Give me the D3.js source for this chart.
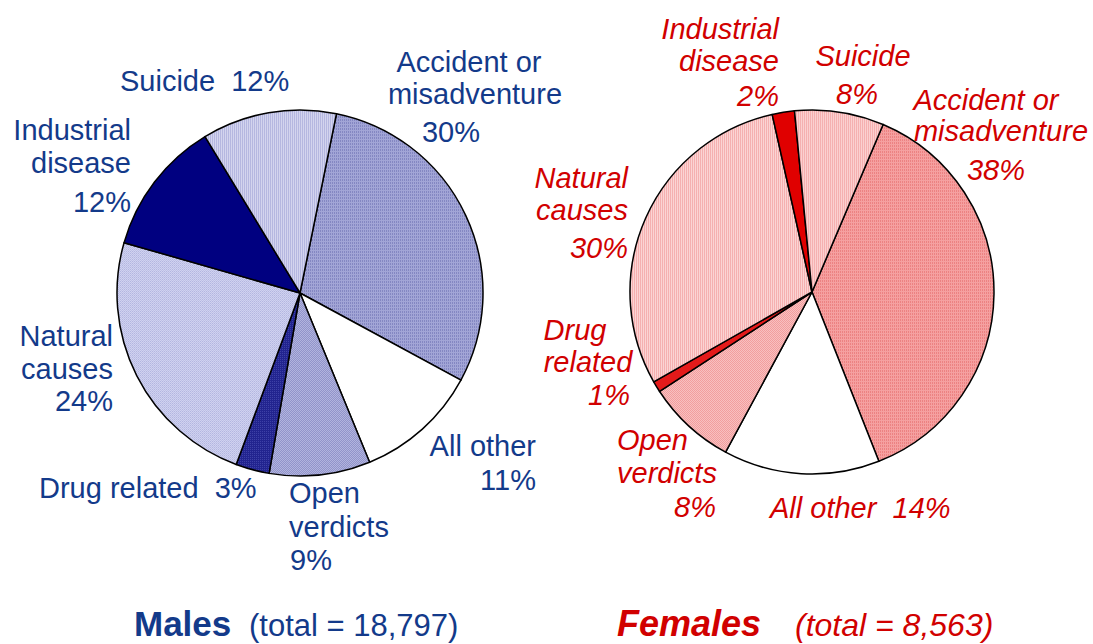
<!DOCTYPE html>
<html>
<head>
<meta charset="utf-8">
<script src="https://cdn.jsdelivr.net/npm/d3@7"></script>
<style>
  html, body { margin: 0; padding: 0; background: #fff; }
  svg { display: block; }
  text { font-family: "Liberation Sans", Arial, sans-serif; }
</style>
</head>
<body>
<div id="chart"></div>
<script>
// ---- data ----
const maleCategories   = ["Accident or misadventure", "All other", "Open verdicts", "Drug related", "Natural causes", "Industrial disease", "Suicide"];
const maleValues       = [30, 11, 9, 3, 24, 12, 12];
const femaleCategories = ["Accident or misadventure", "All other", "Open verdicts", "Drug related", "Natural causes", "Industrial disease", "Suicide"];
const femaleValues     = [38, 14, 8, 1, 30, 2, 8];
const maleTotal   = "18,797";
const femaleTotal = "8,563";

// ---- styles ----
const W = 1093, H = 644;
const maleText = "#133a8a", femaleText = "#d10000";

const svg = d3.select("#chart").append("svg").attr("width", W).attr("height", H);
const defs = svg.append("defs");

// pattern helper: base colour + small cells
function pat(id, w, h, bg, cells) {
  const p = defs.append("pattern").attr("id", id).attr("patternUnits", "userSpaceOnUse")
    .attr("width", w).attr("height", h);
  p.append("rect").attr("width", w).attr("height", h).attr("fill", bg);
  cells.forEach(c => p.append("rect").attr("x", c[0]).attr("y", c[1]).attr("width", c[2]).attr("height", c[3]).attr("fill", c[4]));
  return `url(#${id})`;
}

const maleFill = {
  "Accident or misadventure": pat("mAcc", 2, 3, "#a2a5d6", [[0,0,1,2,"#8487c2"]]),
  "All other": "#ffffff",
  "Open verdicts": pat("mOpen", 2, 2, "#b2b4de", [[0,0,1,1,"#9194ca"],[1,1,1,1,"#9194ca"]]),
  "Drug related": pat("mDrug", 2, 2, "#22248f", [[0,0,1,1,"#3d40a6"]]),
  "Natural causes": pat("mNat", 2, 2, "#d0d2ef", [[0,0,1,1,"#b3b6e1"],[1,1,1,1,"#bec1e8"]]),
  "Industrial disease": "#000080",
  "Suicide": pat("mSui", 2, 1, "#d3d4ee", [[0,0,1,1,"#b5b7e0"]])
};
const femaleFill = {
  "Accident or misadventure": pat("fAcc", 2, 3, "#f5a0a0", [[0,0,1,2,"#ec8282"]]),
  "All other": "#ffffff",
  "Open verdicts": pat("fOpen", 2, 2, "#f8c0c0", [[0,0,1,1,"#f29e9e"],[1,1,1,1,"#f29e9e"]]),
  "Drug related": "#e41a1a",
  "Natural causes": pat("fNat", 2, 2, "#fbd4d4", [[0,0,1,2,"#f5b0b0"]]),
  "Industrial disease": "#e00000",
  "Suicide": pat("fSui", 2, 1, "#fbd0d0", [[0,0,1,1,"#f5b0b0"]])
};

// ---- layout ----
const deg = Math.PI / 180;
const pies = [
  { cats: maleCategories, vals: maleValues, fill: maleFill, cx: 300, cy: 293, r: 183, start: 11.5 },
  { cats: femaleCategories, vals: femaleValues, fill: femaleFill, cx: 812, cy: 292, r: 182, start: 23 }
];

pies.forEach(p => {
  const pie = d3.pie().sort(null).value(d => d.v)
    .startAngle(p.start * deg).endAngle(p.start * deg + 2 * Math.PI);
  const arcs = pie(p.cats.map((c, i) => ({ c, v: p.vals[i] })));
  const arc = d3.arc().innerRadius(0).outerRadius(p.r);
  const g = svg.append("g").attr("transform", `translate(${p.cx},${p.cy})`);
  g.selectAll("path").data(arcs).join("path")
    .attr("d", arc)
    .attr("fill", d => p.fill[d.data.c])
    .attr("stroke", "#000")
    .attr("stroke-width", 1.5)
    .attr("stroke-linejoin", "round");
});

// ---- labels (text lines with placement) ----
const maleLabels = [
  { lines: ["Suicide  12%"], x: 120, y: [91], a: "start" },
  { lines: ["Industrial", "disease", "12%"], x: 131, y: [140, 173, 212], a: "end" },
  { lines: ["Accident or"], x: 469, y: [72], a: "middle" },
  { lines: ["misadventure"], x: 475, y: [104], a: "middle" },
  { lines: ["30%"], x: 451, y: [142], a: "middle" },
  { lines: ["Natural", "causes", "24%"], x: 113, y: [346, 379, 411], a: "end" },
  { lines: ["Drug related  3%"], x: 39, y: [498], a: "start" },
  { lines: ["Open", "verdicts"], x: 289, y: [503, 537], a: "start" },
  { lines: ["9%"], x: 290, y: [570], a: "start" },
  { lines: ["All other", "11%"], x: 536, y: [456, 490], a: "end" }
];
const femaleLabels = [
  { lines: ["Industrial", "disease", "2%"], x: 779, y: [39, 71, 106], a: "end" },
  { lines: ["Suicide"], x: 863, y: [66], a: "middle" },
  { lines: ["8%"], x: 857, y: [104], a: "middle" },
  { lines: ["Accident or"], x: 986, y: [110], a: "middle" },
  { lines: ["misadventure"], x: 1001, y: [141], a: "middle" },
  { lines: ["38%"], x: 996, y: [180], a: "middle" },
  { lines: ["Natural", "causes", "30%"], x: 628, y: [188, 220, 258], a: "end" },
  { lines: ["Drug"], x: 575, y: [340], a: "middle" },
  { lines: ["related"], x: 588, y: [372], a: "middle" },
  { lines: ["1%"], x: 630, y: [405], a: "end" },
  { lines: ["Open", "verdicts"], x: 617, y: [450, 483], a: "start" },
  { lines: ["8%"], x: 716, y: [517], a: "end" },
  { lines: ["All other  14%"], x: 770, y: [518], a: "start" }
];

function drawLabels(list, color, italic) {
  list.forEach(l => {
    l.lines.forEach((t, i) => {
      svg.append("text")
        .attr("x", l.x).attr("y", l.y[i])
        .attr("text-anchor", l.a)
        .attr("font-size", 29)
        .attr("font-style", italic ? "italic" : "normal")
        .attr("fill", color)
        .attr("xml:space", "preserve")
        .style("white-space", "pre")
        .text(t);
    });
  });
}
drawLabels(maleLabels, maleText, false);
drawLabels(femaleLabels, femaleText, true);

// ---- titles ----
const titleY = 636;
svg.append("text").attr("x", 134).attr("y", titleY)
  .attr("font-size", 35).attr("font-weight", "bold").attr("fill", maleText).text("Males");
svg.append("text").attr("x", 249).attr("y", titleY)
  .attr("font-size", 31).attr("fill", maleText).text(`(total = ${maleTotal})`);
svg.append("text").attr("x", 617).attr("y", titleY)
  .attr("font-size", 36).attr("font-weight", "bold").attr("font-style", "italic").attr("fill", femaleText).text("Females");
svg.append("text").attr("x", 795).attr("y", titleY)
  .attr("font-size", 32).attr("font-style", "italic").attr("fill", femaleText).text(`(total = ${femaleTotal})`);
</script>
</body>
</html>
